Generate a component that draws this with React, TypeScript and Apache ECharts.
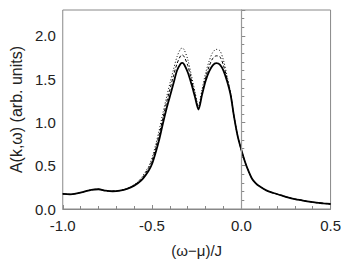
import React, { useEffect, useRef } from "react";
import * as echarts from "echarts";

const xs = [-1.0, -0.96, -0.92, -0.88, -0.84, -0.8, -0.76, -0.72, -0.68, -0.64, -0.6, -0.56, -0.52, -0.5, -0.48, -0.46, -0.44, -0.42, -0.4, -0.38, -0.36, -0.34, -0.33, -0.32, -0.3, -0.28, -0.26, -0.24, -0.22, -0.2, -0.18, -0.16, -0.14, -0.12, -0.1, -0.08, -0.06, -0.04, -0.02, 0.0, 0.02, 0.04, 0.06, 0.08, 0.1, 0.14, 0.18, 0.22, 0.26, 0.3, 0.34, 0.38, 0.42, 0.46, 0.5];

const solid = [0.175, 0.17, 0.18, 0.2, 0.222, 0.228, 0.212, 0.205, 0.212, 0.232, 0.27, 0.33, 0.44, 0.52, 0.65, 0.8, 0.98, 1.15, 1.3, 1.45, 1.6, 1.68, 1.69, 1.67, 1.58, 1.45, 1.3, 1.15, 1.32, 1.48, 1.59, 1.66, 1.685, 1.67, 1.6, 1.48, 1.32, 1.06, 0.84, 0.685, 0.55, 0.44, 0.35, 0.3, 0.265, 0.215, 0.185, 0.16, 0.135, 0.115, 0.1, 0.085, 0.073, 0.065, 0.058];

const dashed = [0.175, 0.17, 0.18, 0.2, 0.222, 0.228, 0.212, 0.205, 0.212, 0.234, 0.275, 0.345, 0.47, 0.56, 0.7, 0.86, 1.04, 1.22, 1.38, 1.54, 1.68, 1.77, 1.78, 1.76, 1.66, 1.5, 1.33, 1.17, 1.34, 1.52, 1.65, 1.74, 1.77, 1.76, 1.66, 1.51, 1.33, 1.06, 0.84, 0.685, 0.55, 0.44, 0.35, 0.3, 0.265, 0.215, 0.185, 0.16, 0.135, 0.115, 0.1, 0.085, 0.073, 0.065, 0.058];

const dotted = [0.175, 0.17, 0.18, 0.2, 0.222, 0.228, 0.212, 0.205, 0.214, 0.236, 0.28, 0.36, 0.49, 0.59, 0.74, 0.91, 1.1, 1.28, 1.45, 1.61, 1.76, 1.85, 1.86, 1.84, 1.73, 1.55, 1.36, 1.19, 1.38, 1.57, 1.71, 1.81, 1.845, 1.83, 1.72, 1.54, 1.34, 1.06, 0.84, 0.685, 0.55, 0.44, 0.35, 0.3, 0.265, 0.215, 0.185, 0.16, 0.135, 0.115, 0.1, 0.085, 0.073, 0.065, 0.058];

const xAxisName = "(ω−μ)/J";
const yAxisName = "A(k,ω) (arb. units)";
const zeroLine = 0.0;

export default function App() {
  const ref = useRef<HTMLDivElement>(null);
  useEffect(() => {
    if (!ref.current) return;
    const chart = echarts.init(ref.current, null, { renderer: "svg" });
    const font = "'Liberation Sans', Arial, sans-serif";
    const axisColor = "#888";
    const pair = (ys: number[]) => xs.map((x, i) => [x, ys[i]]);
    chart.setOption({
      animation: false,
      backgroundColor: "#fff",
      grid: { left: 57, top: 10, right: 12, bottom: 55, show: true, borderColor: axisColor, borderWidth: 1 },
      xAxis: {
        type: "value",
        min: -1,
        max: 0.5,
        interval: 0.5,
        name: xAxisName,
        nameLocation: "middle",
        nameGap: 34,
        nameTextStyle: { fontFamily: font, fontSize: 15, color: "#222" },
        axisLine: { lineStyle: { color: axisColor } },
        axisTick: { inside: true, length: 4, lineStyle: { color: axisColor } },
        minorTick: { show: true, splitNumber: 5, length: 3, lineStyle: { color: axisColor } },
        splitLine: { show: false },
        axisLabel: { fontFamily: font, fontSize: 15, color: "#222", margin: 9, formatter: (v: number) => v.toFixed(1) },
      },
      yAxis: {
        type: "value",
        min: 0,
        max: 2.3,
        interval: 0.5,
        name: yAxisName,
        nameLocation: "middle",
        nameGap: 37,
        nameTextStyle: { fontFamily: font, fontSize: 16, color: "#222" },
        axisLine: { show: true, lineStyle: { color: axisColor } },
        axisTick: { inside: true, length: 4, lineStyle: { color: axisColor } },
        minorTick: { show: true, splitNumber: 5, length: 3, lineStyle: { color: axisColor } },
        splitLine: { show: false },
        axisLabel: { fontFamily: font, fontSize: 15, color: "#222", margin: 7, showMaxLabel: false, formatter: (v: number) => v.toFixed(1) },
      },
      series: [
        {
          type: "line",
          data: pair(dotted),
          smooth: 0.3,
          symbol: "none",
          lineStyle: { color: "#000", width: 1, type: [1, 2] },
        },
        {
          type: "line",
          data: pair(dashed),
          smooth: 0.3,
          symbol: "none",
          lineStyle: { color: "#000", width: 1, type: [3, 2] },
        },
        {
          type: "line",
          data: pair(solid),
          smooth: 0.3,
          symbol: "none",
          lineStyle: { color: "#000", width: 1.8 },
          markLine: {
            silent: true,
            symbol: "none",
            label: { show: false },
            lineStyle: { color: "#999", width: 1.2, type: "solid" },
            data: [{ xAxis: zeroLine }],
          },
        },
      ],
    });
    return () => chart.dispose();
  }, []);
  return (
    <div
      ref={ref}
      style={{ position: "absolute", left: 0, top: 0, width: 344, height: 264, overflow: "visible" }}
    />
  );
}
